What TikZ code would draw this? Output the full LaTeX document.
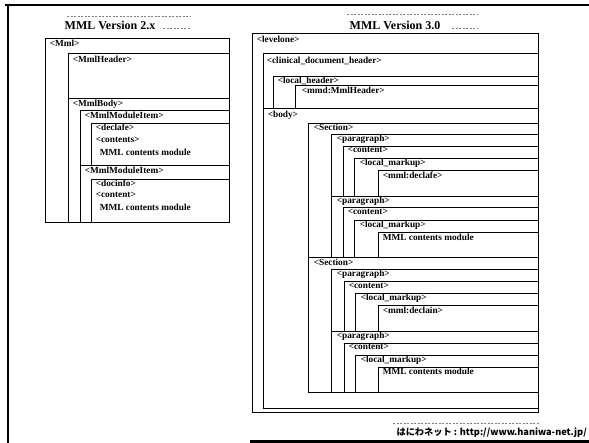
\documentclass[tikz,border=0pt]{standalone}
\usepackage{fontspec}
\setmainfont{Liberation Serif}
\newfontfamily\jpfont{Noto Sans CJK JP}
\begin{document}
\begin{tikzpicture}[x=1pt,y=-1pt,
  box/.style={draw=black,line width=0.9pt},
  frame/.style={line width=2.6pt,line cap=butt},
  lbl/.style={anchor=north west,inner sep=0.6pt,font=\fontsize{9.3}{10}\selectfont\bfseries},
  ttl/.style={inner sep=1pt,font=\fontsize{12}{13}\selectfont\bfseries},
  faint/.style={draw=black!50,line width=0.6pt,dash pattern=on 2pt off 1.5pt}]
\useasboundingbox (0,0) rectangle (589,443);

% page frame
\draw[frame] (5,5) -- (589,5);
\draw[frame] (8,4) -- (8,443);
\draw[frame] (250,441.5) -- (589,441.5);

% ---------------- MML Version 2.x ----------------
\draw[faint] (67,16) -- (190,16);
\node[ttl] (t2) at (110,25) {MML Version 2.x};
\draw[faint] (163,28) -- (190,28);

\draw[box] (45,38) rectangle (229,222);
\node[lbl] (mml) at (49,39.5) {<Mml>};
\draw[box] (68,53) rectangle (229,98);
\node[lbl] (mmlheader) at (72,55) {<MmlHeader>};
\draw[box] (68,98) rectangle (229,222);
\node[lbl] (mmlbody) at (72,99.5) {<MmlBody>};
\draw[box] (80,110) rectangle (229,165);
\node[lbl] (item1) at (84,111) {<MmlModuleItem>};
\draw[box] (91,123) rectangle (229,165);
\node[lbl] (decl1) at (95,123.5) {<declafe>};
\node[lbl] (cont1) at (95,136) {<contents>};
\node[lbl] (mod1) at (99,148) {MML contents module};
\draw[box] (80,165) rectangle (229,222);
\node[lbl] (item2) at (84,166) {<MmlModuleItem>};
\draw[box] (91,179) rectangle (229,222);
\node[lbl] (decl2) at (95,179) {<docinfo>};
\node[lbl] (cont2) at (95,191.5) {<content>};
\node[lbl] (mod2) at (99,203.5) {MML contents module};

% ---------------- MML Version 3.0 ----------------
\draw[faint] (347,14) -- (477,14);
\node[ttl] (t3) at (395,25) {MML Version 3.0};
\draw[faint] (452,28) -- (477,28);

\draw[box] (252,33) rectangle (538,412);
\node[lbl] (levelone) at (256,35) {<levelone>};
\draw[box] (263,53) rectangle (538,108);
\node[lbl] (cdh) at (266,56) {<clinical\_document\_header>};
\draw[box] (273,76) rectangle (538,108);
\node[lbl] (lh) at (277,76) {<local\_header>};
\draw[box] (295,85) rectangle (538,108);
\node[lbl] (mmdh) at (301,86) {<mmd:MmlHeader>};
\draw[box] (263,108) rectangle (538,408);
\node[lbl] (body) at (267,110) {<body>};

% first section
\draw[box] (308,123) rectangle (538,257);
\node[lbl] (sec1) at (313,123.5) {<Section>};
\draw[box] (331,134) rectangle (538,196);
\node[lbl] (par1) at (336,134) {<paragraph>};
\draw[box] (343,146) rectangle (538,196);
\node[lbl] (con1) at (347,146.5) {<content>};
\draw[box] (354,158) rectangle (538,196);
\node[lbl] (lm1) at (359,158.5) {<local\_markup>};
\draw[box] (378,170) rectangle (538,196);
\node[lbl] (dec1) at (382,171) {<mml:declafe>};
\draw[box] (331,196) rectangle (538,257);
\node[lbl] (par2) at (336,196.5) {<paragraph>};
\draw[box] (343,207) rectangle (538,257);
\node[lbl] (con2) at (347,208) {<content>};
\draw[box] (354,220) rectangle (538,257);
\node[lbl] (lm2) at (359,220.5) {<local\_markup>};
\draw[box] (378,232) rectangle (538,257);
\node[lbl] (mod3) at (382,233) {MML contents module};

% second section
\draw[box] (308,257) rectangle (538,392);
\node[lbl] (sec2) at (313,258) {<Section>};
\draw[box] (331,269) rectangle (538,331);
\node[lbl] (par3) at (336,269.5) {<paragraph>};
\draw[box] (344,281) rectangle (538,331);
\node[lbl] (con3) at (348,282) {<content>};
\draw[box] (355,293) rectangle (538,331);
\node[lbl] (lm3) at (360,293.5) {<local\_markup>};
\draw[box] (378,305) rectangle (538,331);
\node[lbl] (dec3) at (382,306) {<mml:declain>};
\draw[box] (331,331) rectangle (538,392);
\node[lbl] (par4) at (336,331.5) {<paragraph>};
\draw[box] (344,343) rectangle (538,392);
\node[lbl] (con4) at (348,343.5) {<content>};
\draw[box] (355,355) rectangle (538,392);
\node[lbl] (lm4) at (360,355.5) {<local\_markup>};
\draw[box] (378,367) rectangle (538,392);
\node[lbl] (mod4) at (382,367.5) {MML contents module};

% footer
\draw[faint] (393,423) -- (540,423);
\node[anchor=east,inner sep=0pt,font=\jpfont\bfseries\fontsize{9.2}{10}\selectfont] (site) at (587,433) {はにわネット : http://www.haniwa-net.jp/};
\end{tikzpicture}
\end{document}
